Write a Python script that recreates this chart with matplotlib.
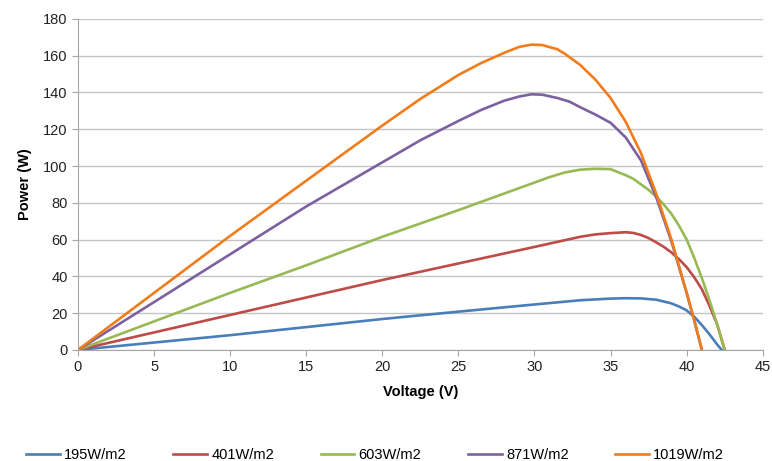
import matplotlib.pyplot as plt

plt.rcParams['font.family'] = ['Liberation Sans', 'DejaVu Sans']

# Power-voltage curves, one per irradiance level
v_195 = [0, 5, 10, 15, 20, 25, 30, 33, 35, 36, 37, 38, 39, 39.5, 40, 40.5, 41, 41.5, 42, 42.3]
p_195 = [0, 4, 8, 12.4, 16.8, 20.8, 24.7, 27, 27.9, 28.1, 28, 27.3, 25.3, 23.6, 21.5, 18, 13.5, 8.5, 3, 0]

v_401 = [0, 5, 10, 15, 20, 25, 30, 33, 34, 35, 36, 36.5, 37, 37.5, 38, 38.5, 39, 39.5, 40, 40.5,
         41, 41.5, 42, 42.5]
p_401 = [0, 9.5, 19, 28.5, 38, 47, 56, 61.5, 62.8, 63.5, 64, 63.6, 62.5, 60.8, 58.5, 56, 53, 49.3,
         45, 39.5, 33, 24, 14, 0]

v_603 = [0, 5, 10, 15, 20, 25, 30, 31, 32, 33, 34, 35, 36, 36.5, 37, 37.5, 38, 38.5, 39, 39.5,
         40, 40.5, 41, 41.5, 42, 42.5]
p_603 = [0, 15.5, 31, 46, 61.5, 76, 91, 94, 96.5, 98, 98.5, 98.3, 95, 93, 90, 87, 83.4, 79, 74,
         67.5, 60, 50, 39, 27, 14, 0]

v_871 = [0, 5, 10, 15, 20, 22.5, 25, 26.5, 28, 29, 29.8, 30.5, 31.5, 32.3, 33, 34, 35, 36, 37,
         38, 39, 40, 40.5, 41.0]
p_871 = [0, 26, 52, 78, 102, 114, 124.5, 130.5, 135.5, 137.8, 139, 138.8, 137, 135, 132, 128,
         123.5, 115.5, 103, 83, 59, 31, 16, 0]

v_1019 = [0, 5, 10, 15, 20, 22.5, 25, 26.5, 28, 29, 29.8, 30.5, 31.5, 32, 33, 34, 35, 36, 37, 38,
          39, 40, 40.5, 41.0]
p_1019 = [0, 31, 62, 92, 122, 136.5, 149.5, 156, 161.5, 164.8, 166, 165.8, 163.5, 161, 155, 147,
          137, 124, 107, 85, 60, 31, 16, 0]

labels = ['195W/m2', '401W/m2', '603W/m2', '871W/m2', '1019W/m2']
series = [(v_195, p_195), (v_401, p_401), (v_603, p_603), (v_871, p_871), (v_1019, p_1019)]
colors = ['#4A7EBB', '#BE4B48', '#98B954', '#7D60A0', '#F07C1B']

fig = plt.figure(figsize=(7.72, 4.61), dpi=100)
ax = fig.add_axes([0.101, 0.241, 0.887, 0.718])

for (v, p), lab, c in zip(series, labels, colors):
    ax.plot(v, p, color=c, lw=1.9, label=lab, solid_joinstyle='round')

ax.set_xlim(0, 45)
ax.set_ylim(0, 180)
ax.set_xticks(range(0, 46, 5))
ax.set_yticks(range(0, 181, 20))

ax.grid(axis='y', color='#c4c4c4', lw=1)
ax.set_axisbelow(True)
for s in ['top', 'right']:
    ax.spines[s].set_visible(False)
for s in ['left', 'bottom']:
    ax.spines[s].set_color('#a6a6a6')
ax.tick_params(axis='both', colors='#a6a6a6', labelcolor='#222222', labelsize=10.5, length=4)

ax.set_xlabel('Voltage (V)', fontsize=10.5, fontweight='bold', labelpad=8)
ax.set_ylabel('Power (W)', fontsize=10.5, fontweight='bold', labelpad=8)

fig.legend(loc='lower center', bbox_to_anchor=(0.486, -0.03), ncol=5, frameon=False,
           fontsize=10.5, handlelength=2.3, handletextpad=0.3, columnspacing=3.2)

plt.savefig('out.png', dpi=100)
